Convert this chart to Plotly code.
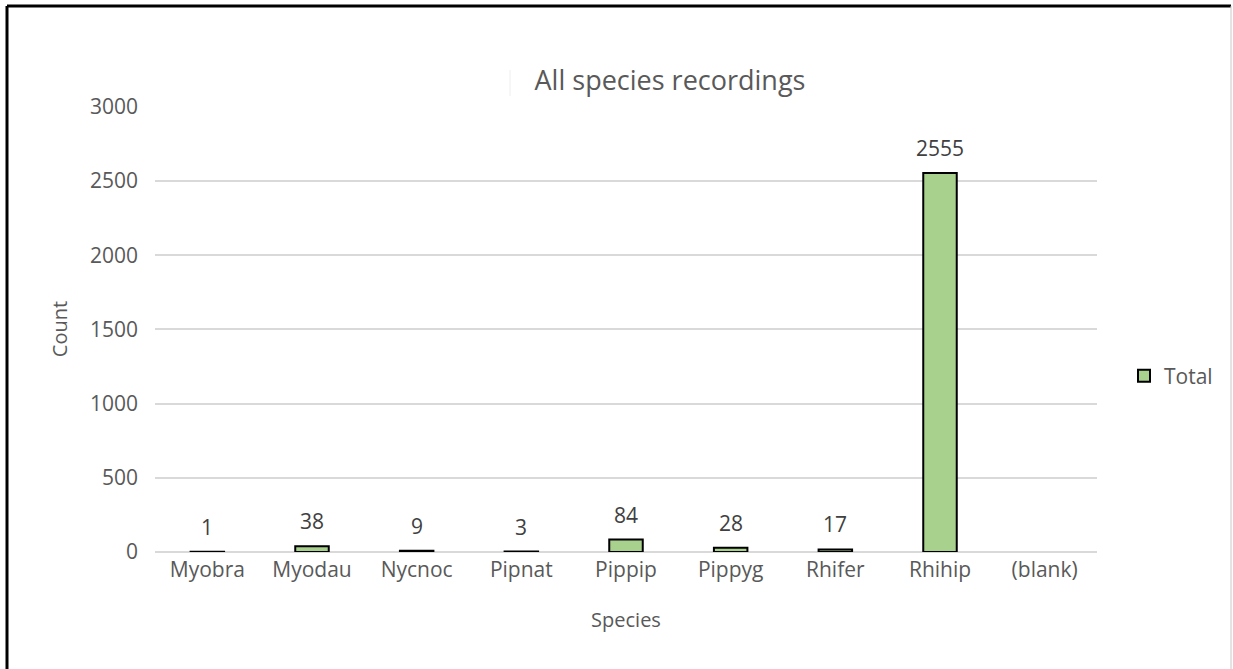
import plotly.graph_objects as go

# Recording counts per species
species = ["Myobra", "Myodau", "Nycnoc", "Pipnat", "Pippip", "Pippyg", "Rhifer", "Rhihip", "(blank)"]
counts = [1, 38, 9, 3, 84, 28, 17, 2555, None]
y_ticks = [0, 500, 1000, 1500, 2000, 2500, 3000]

FONT = "'Open Sans', sans-serif"
GREY_TEXT = "#595959"
GRID = "#d9d9d9"

W, H = 1233, 669
ML, MR, MT, MB = 155, 136, 106, 117
PW, PH = W - ML - MR, H - MT - MB


def px_x(x):
    """Convert a page x pixel to paper coordinates."""
    return (x - ML) / PW


def px_y(y):
    """Convert a page y pixel (from the top) to paper coordinates."""
    return (H - MB - y) / PH


fig = go.Figure()
fig.add_trace(go.Bar(
    x=species,
    y=counts,
    name="Total",
    marker=dict(color="#a9d18e", line=dict(color="#000000", width=2)),
    width=0.32,
))

# Data labels above each bar
for s, c in zip(species, counts):
    if c is None:
        continue
    fig.add_annotation(
        x=s, y=c, text=str(c), showarrow=False, yshift=25,
        font=dict(family=FONT, size=21, color="#404040"),
    )

# Outer frame around the chart
fig.add_shape(type="line", xref="paper", yref="paper",
              x0=px_x(7), x1=px_x(7), y0=px_y(H + 2), y1=px_y(6),
              line=dict(color="#000000", width=3))
fig.add_shape(type="line", xref="paper", yref="paper",
              x0=px_x(7), x1=px_x(1231), y0=px_y(6), y1=px_y(6),
              line=dict(color="#000000", width=3))
fig.add_shape(type="line", xref="paper", yref="paper",
              x0=px_x(1231), x1=px_x(1231), y0=px_y(H + 2), y1=px_y(6),
              line=dict(color="#c8c8c8", width=1))
# Faint edge left of the title box
fig.add_shape(type="line", xref="paper", yref="paper",
              x0=px_x(510), x1=px_x(510), y0=px_y(96), y1=px_y(70),
              line=dict(color="#eeeeee", width=1))

fig.update_layout(
    width=W, height=H,
    paper_bgcolor="white", plot_bgcolor="white",
    margin=dict(l=ML, r=MR, t=MT, b=MB),
    font=dict(family=FONT, color=GREY_TEXT),
    title=dict(text="All species recordings", x=670 / W, xanchor="center",
               y=1 - 81 / H, yanchor="middle",
               font=dict(family=FONT, size=27, color=GREY_TEXT)),
    showlegend=True,
    legend=dict(x=px_x(1124), y=px_y(376), xanchor="left", yanchor="middle",
                font=dict(family=FONT, size=21, color=GREY_TEXT),
                bgcolor="rgba(0,0,0,0)", itemwidth=30),
    bargap=0.68,
)

fig.update_xaxes(
    showgrid=False, showline=False, ticks="",
    ticklabelstandoff=3,
    tickfont=dict(family=FONT, size=21, color=GREY_TEXT),
    title=dict(text="Species", font=dict(family=FONT, size=20, color=GREY_TEXT), standoff=30),
)
fig.update_yaxes(
    range=[0, 3006], tickvals=y_ticks, showgrid=True, gridcolor=GRID, gridwidth=1.5,
    zeroline=True, zerolinecolor=GRID, zerolinewidth=1.5, showline=False, ticks="",
    ticklabelstandoff=16,
    tickfont=dict(family=FONT, size=21, color=GREY_TEXT),
    title=dict(text="Count", font=dict(family=FONT, size=20, color=GREY_TEXT), standoff=16),
)

fig.write_html("out.html")
